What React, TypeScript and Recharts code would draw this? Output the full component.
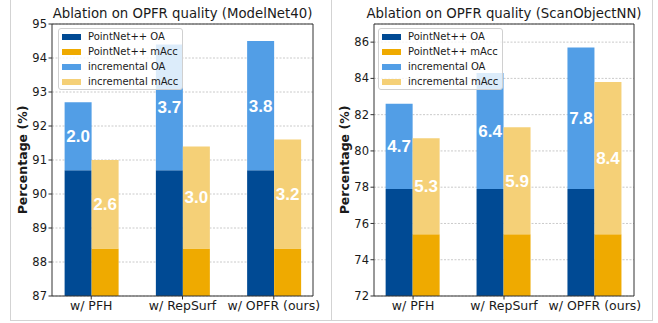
import { Bar, BarChart, CartesianGrid, LabelList, Legend, ReferenceLine, XAxis, YAxis } from 'recharts';

const categories = ['w/ PFH', 'w/ RepSurf', 'w/ OPFR (ours)'];
const seriesNames = ['PointNet++ OA', 'PointNet++ mAcc', 'incremental OA', 'incremental mAcc'];

// ModelNet40
const modelNetBaseOA = [90.7, 90.7, 90.7];
const modelNetBaseMAcc = [88.4, 88.4, 88.4];
const modelNetIncOA = [2.0, 3.7, 3.8];
const modelNetIncMAcc = [2.6, 3.0, 3.2];
const modelNetTicks = [87, 88, 89, 90, 91, 92, 93, 94, 95];

// ScanObjectNN
const scanBaseOA = [77.9, 77.9, 77.9];
const scanBaseMAcc = [75.4, 75.4, 75.4];
const scanIncOA = [4.7, 6.4, 7.8];
const scanIncMAcc = [5.3, 5.9, 8.4];
const scanTicks = [72, 74, 76, 78, 80, 82, 84, 86];

const COLORS = ['#004a94', '#efaa00', '#529ee6', '#f5d077'];
const FONT = '"DejaVu Sans", sans-serif';
const TEXT = '#1a1a1a';

const buildRows = (baseOA: number[], baseMAcc: number[], incOA: number[], incMAcc: number[]) =>
	categories.map((_, i) => ({
		x: i,
		baseOA: baseOA[i],
		incOA: incOA[i],
		baseMAcc: baseMAcc[i],
		incMAcc: incMAcc[i],
	}));

const LegendBox = () => (
	<div
		style={{
			background: 'rgba(255,255,255,0.8)',
			border: '1px solid #d0d0d0',
			borderRadius: 3,
			padding: '0 4px 0 3px',
			fontFamily: FONT,
			fontSize: 10,
			color: TEXT,
		}}
	>
		{seriesNames.map((name, i) => (
			<div key={name} style={{ display: 'flex', alignItems: 'center', height: 15 }}>
				<span style={{ display: 'inline-block', width: 19, height: 6, background: COLORS[i], marginRight: 7 }} />
				<span>{name}</span>
			</div>
		))}
	</div>
);

interface PanelProps {
	title: string;
	rows: ReturnType<typeof buildRows>;
	domain: [number, number];
	ticks: number[];
	left: number;
	width: number;
	axisWidth: number;
	rightMargin: number;
	labelX: number;
	legendLeft: number;
}

function Panel({ title, rows, domain, ticks, left, width, axisWidth, rightMargin, labelX, legendLeft }: PanelProps) {
	const plotLeft = axisWidth;
	const plotWidth = width - axisWidth - rightMargin;
	const valueLabel = {
		fill: '#fff',
		fontSize: 17,
		fontWeight: 'bold' as const,
		fontFamily: '"Liberation Sans", Arial, sans-serif',
	};
	return (
		<div style={{ position: 'absolute', left, top: 0, width, height: 323 }}>
			<div
				style={{
					position: 'absolute',
					left: plotLeft - 40,
					width: plotWidth + 80,
					top: 7,
					textAlign: 'center',
					fontFamily: FONT,
					fontSize: 13.3,
					lineHeight: '14px',
					color: TEXT,
					whiteSpace: 'nowrap',
				}}
			>
				{title}
			</div>
			<BarChart
				width={width}
				height={323}
				data={rows}
				margin={{ top: 24, right: rightMargin, bottom: 0, left: 0 }}
				barGap={0}
				barSize={27}
				style={{ position: 'absolute', top: 0, left: 0 }}
			>
				<CartesianGrid vertical={false} stroke="#bdbdbd" strokeDasharray="2 1.5" strokeWidth={0.8} />
				<XAxis
					dataKey="x"
					type="number"
					domain={[-0.43, 2.43]}
					ticks={[0, 1, 2]}
					allowDataOverflow
					height={27}
					tickFormatter={(v: number) => categories[v]}
					tick={{ fontSize: 12.5, fill: TEXT, fontFamily: FONT }}
					tickSize={3.5}
					tickMargin={2}
					stroke="#333"
				/>
				<YAxis
					type="number"
					domain={domain}
					ticks={ticks}
					allowDataOverflow
					width={axisWidth}
					tick={{ fontSize: 11.5, fill: TEXT, fontFamily: FONT }}
					tickSize={3.5}
					tickMargin={1.5}
					stroke="#333"
					label={{
						content: (props: any) => {
							const vb = props.viewBox || { y: 24, height: 272 };
							return (
								<text
									transform={`translate(${labelX},${vb.y + vb.height / 2}) rotate(-90)`}
									textAnchor="middle"
									dominantBaseline="central"
									fontFamily={FONT}
									fontSize={12.5}
									fontWeight="bold"
									fill={TEXT}
								>
									Percentage (%)
								</text>
							);
						},
					}}
				/>
				<ReferenceLine y={domain[1]} stroke="#333" />
				<ReferenceLine x={2.43} stroke="#333" />
				<Bar dataKey="baseOA" stackId="oa" fill={COLORS[0]} isAnimationActive={false} />
				<Bar dataKey="incOA" stackId="oa" fill={COLORS[2]} isAnimationActive={false}>
					<LabelList dataKey="incOA" position="center" formatter={(v: any) => Number(v).toFixed(1)} {...valueLabel} />
				</Bar>
				<Bar dataKey="baseMAcc" stackId="macc" fill={COLORS[1]} isAnimationActive={false} />
				<Bar dataKey="incMAcc" stackId="macc" fill={COLORS[3]} isAnimationActive={false}>
					<LabelList dataKey="incMAcc" position="center" formatter={(v: any) => Number(v).toFixed(1)} {...valueLabel} />
				</Bar>
				<Legend
					layout="vertical"
					align="center"
					verticalAlign="middle"
					content={() => <LegendBox />}
					wrapperStyle={{ left: legendLeft, top: 28, width: 'auto', height: 'auto' }}
				/>
			</BarChart>
		</div>
	);
}

export default function App() {
	const modelNetRows = buildRows(modelNetBaseOA, modelNetBaseMAcc, modelNetIncOA, modelNetIncMAcc);
	const scanRows = buildRows(scanBaseOA, scanBaseMAcc, scanIncOA, scanIncMAcc);
	return (
		<div style={{ position: 'absolute', left: 0, top: 0, width: 658, height: 323, background: '#fff', overflow: 'hidden' }}>
			<div
				style={{
					position: 'absolute',
					left: 10,
					top: -1,
					width: 641,
					height: 321,
					borderLeft: '1px solid #d3d3d3',
					borderRight: '1px solid #d3d3d3',
					borderBottom: '1px solid #d3d3d3',
				}}
			/>
			<div style={{ position: 'absolute', left: 331, top: 0, width: 1, height: 321, background: '#d3d3d3' }} />
			<Panel
				title="Ablation on OPFR quality (ModelNet40)"
				rows={modelNetRows}
				domain={[87, 95]}
				ticks={modelNetTicks}
				left={0}
				width={330}
				axisWidth={52}
				rightMargin={17}
				labelX={22}
				legendLeft={58}
			/>
			<Panel
				title="Ablation on OPFR quality (ScanObjectNN)"
				rows={scanRows}
				domain={[72, 87]}
				ticks={scanTicks}
				left={330}
				width={328}
				axisWidth={44}
				rightMargin={24}
				labelX={14}
				legendLeft={48}
			/>
		</div>
	);
}
